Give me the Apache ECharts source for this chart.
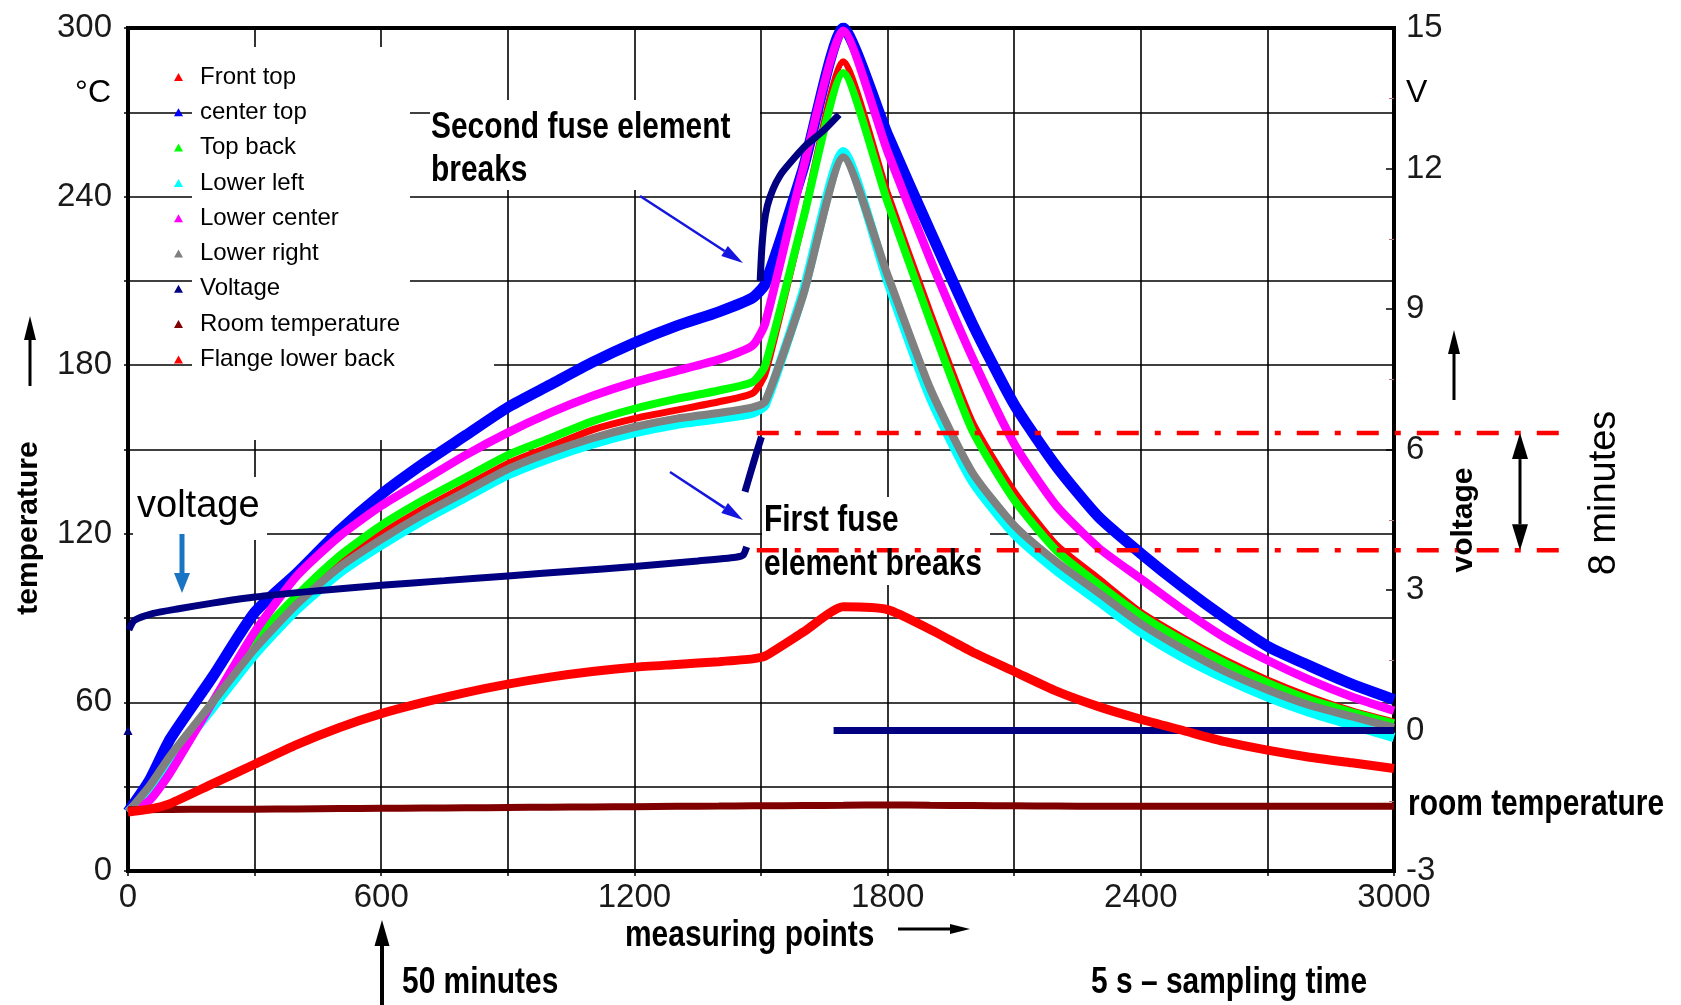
<!DOCTYPE html>
<html>
<head>
<meta charset="utf-8">
<script src="https://cdn.jsdelivr.net/npm/echarts@6.0.0/dist/echarts.min.js"></script>
<style>
  html, body { margin: 0; padding: 0; background: #fff; }
  #chart { width: 1681px; height: 1005px; }
</style>
</head>
<body>
<div id="chart"></div>
<script>
// measuring points (x positions shared by the temperature curves)
const xs = [0, 50, 100, 200, 300, 400, 500, 600, 700, 800, 900, 1000, 1100, 1200, 1300, 1400,
  1480, 1510, 1600, 1695,
  1800, 1900, 2000, 2100, 2200, 2300, 2400, 2500, 2600, 2700, 2800, 2900, 3000];

// temperatures in °C
const frontTop = [21, 27, 38, 58, 80, 96, 110, 120, 129, 137, 145, 151, 157, 161, 164, 167,
  170, 177, 232, 288,
  241, 199, 160, 135, 116, 104, 92, 83, 75, 68, 62, 57, 53];
const centerTop = [21, 32, 47, 69, 92, 106, 121, 134, 145, 155, 165, 173, 181, 188, 194, 199,
  204, 209, 250, 300,
  262, 228, 195, 166, 144, 126, 113, 101, 90, 80, 73, 66.5, 61];
const topBack = [21, 28, 40, 60, 82, 98, 112, 123, 132, 140, 148, 154, 160, 164.5, 168, 171,
  174, 180, 232, 284,
  238, 196, 157, 132, 114, 102, 91, 82, 74, 67, 61, 56.5, 52.5];
const lowerLeft = [21, 28, 39, 58, 77, 93, 106, 116, 125, 133, 141, 147, 152, 156, 159, 161,
  163, 166, 206, 256,
  210, 169, 139, 120, 107, 96, 85, 76, 68.5, 62, 56.5, 52, 47.5];
const lowerCenter = [21, 25, 35, 60, 85, 105, 119, 130, 139, 148, 156, 163, 169, 174, 178, 182,
  187, 195, 250, 299,
  256, 218, 183, 152, 130, 115, 104, 93, 83, 75, 68, 62, 57];
const lowerRight = [21, 30, 41, 60, 79, 95, 108, 118, 127, 135, 143, 149, 154, 158, 161, 163,
  165, 167, 205, 254,
  212, 172, 142, 123, 110, 99, 88, 79, 71, 64.5, 59, 55, 51];
const roomTemp = [21.8, 21.8, 21.9, 22, 22, 22.1, 22.2, 22.3, 22.4, 22.5, 22.6, 22.7, 22.8, 22.9, 23, 23.1,
  23.2, 23.2, 23.3, 23.4,
  23.5, 23.4, 23.3, 23.2, 23.1, 23, 23, 23, 23, 23, 23, 23, 23];
const flangeLowerBack = [21, 22, 24, 31, 38, 45, 51, 56, 60, 63.5, 66.5, 69, 71, 72.5, 73.5, 74.5,
  75.5, 76.5, 85, 94,
  93, 86, 78, 71, 64, 58.5, 54, 50, 46, 43, 40.5, 38.5, 36.5];

// voltage in V (null = gap where a fuse element breaks)
const voltX = [0, 1,
  2, 15, 60, 120, 200, 300, 420, 600, 750, 900, 1050, 1200, 1350, 1440, 1458, 1466, 1467,
  1462, 1475, 1490, 1501, 1502,
  1498, 1502, 1507, 1515, 1528, 1545, 1567, 1607, 1647, 1685, 1686,
  1672, 3000];
const voltV = [0, null,
  2.15, 2.35, 2.5, 2.6, 2.72, 2.85, 2.96, 3.1, 3.2, 3.3, 3.4, 3.5, 3.62, 3.7, 3.75, 3.92, null,
  5.1, 5.5, 5.95, 6.27, null,
  9.6, 10.3, 10.8, 11.2, 11.55, 11.85, 12.1, 12.5, 12.8, 13.15, null,
  0, 0];

// fuse break levels on the voltage axis
const breakLevels = [6.35, 3.85];
const breakStart = 1490;

const sans = '"Liberation Sans", Arial, sans-serif';

function pairs(arr) {
  return xs.map((x, i) => [x, arr[i]]);
}

function tempSeries(name, color, width, arr) {
  return {
    name: name,
    type: 'line',
    data: pairs(arr),
    showSymbol: false,
    smooth: 0.2,
    itemStyle: { color: color },
    lineStyle: { color: color, width: width },
    emphasis: { disabled: true }
  };
}

const voltData = voltX.map((x, i) => {
  if (i === 0) {
    return { value: [x, voltV[i]], symbol: 'triangle', symbolSize: 9 };
  }
  return [x, voltV[i] === null ? '-' : voltV[i]];
});

const chart = echarts.init(document.getElementById('chart'));

chart.setOption({
  animation: false,
  backgroundColor: '#fff',
  grid: {
    left: 128, right: 287, top: 28, bottom: 134,
    show: true, borderColor: '#000', borderWidth: 4, backgroundColor: 'transparent'
  },
  legend: {
    orient: 'vertical',
    left: 169, top: 59,
    icon: 'triangle',
    itemWidth: 9, itemHeight: 8,
    itemGap: 9.3,
    selectedMode: false,
    textStyle: { fontFamily: sans, fontSize: 24, color: '#000', lineHeight: 26, padding: [0, 0, 0, 12] },
    data: ['Front top', 'center top', 'Top back', 'Lower left', 'Lower center', 'Lower right',
      'Voltage', 'Room temperature', 'Flange lower back']
  },
  xAxis: {
    type: 'value', min: 0, max: 3000, interval: 300,
    axisLine: { lineStyle: { color: '#000', width: 4 } },
    axisTick: { show: true, length: 5, lineStyle: { color: '#000', width: 1.5 } },
    axisLabel: {
      margin: 10, fontSize: 33, fontFamily: sans, color: '#1a1a1a',
      formatter: v => (v % 600 === 0 ? String(v) : '')
    },
    splitLine: { show: true, lineStyle: { color: '#000', width: 1.6 } }
  },
  yAxis: [
    {
      type: 'value', min: 0, max: 300, interval: 30, position: 'left',
      axisLine: { show: true, lineStyle: { color: '#000', width: 4 } },
      axisTick: { show: true, length: 4, lineStyle: { color: '#000', width: 1.5 } },
      axisLabel: {
        margin: 16, fontSize: 33, fontFamily: sans, color: '#1a1a1a',
        formatter: v => (v % 60 === 0 ? String(v) : '')
      },
      splitLine: { show: true, lineStyle: { color: '#000', width: 1.6 } }
    },
    {
      type: 'value', min: -3, max: 15, interval: 3, position: 'right',
      axisLine: { show: true, lineStyle: { color: '#000', width: 4 } },
      axisTick: { show: true, inside: true, length: 8, lineStyle: { color: '#000', width: 1.5 } },
      minorTick: { show: true, splitNumber: 2, length: 5, lineStyle: { color: '#b07070', width: 1 } },
      axisLabel: { margin: 12, fontSize: 33, fontFamily: sans, color: '#1a1a1a' },
      splitLine: { show: false }
    }
  ],
  series: [
    tempSeries('Front top', '#ff0000', 7, frontTop),
    tempSeries('center top', '#0000ff', 11, centerTop),
    tempSeries('Top back', '#00ff00', 8, topBack),
    tempSeries('Lower left', '#00ffff', 9.5, lowerLeft),
    tempSeries('Lower center', '#ff00ff', 8.5, lowerCenter),
    tempSeries('Lower right', '#808080', 8, lowerRight),
    {
      name: 'Voltage',
      type: 'line',
      yAxisIndex: 1,
      data: voltData,
      showSymbol: true,
      symbol: 'none',
      smooth: 0.2,
      connectNulls: false,
      itemStyle: { color: '#000080' },
      lineStyle: { color: '#000080', width: 7 },
      emphasis: { disabled: true }
    },
    tempSeries('Room temperature', '#800000', 7, roomTemp),
    tempSeries('Flange lower back', '#ff0000', 9, flangeLowerBack)
  ]
});

// ---- annotations ----
function arrow(x1, y1, x2, y2, color, w, hl, hw) {
  const a = Math.atan2(y2 - y1, x2 - x1);
  const bx = x2 - hl * Math.cos(a), by = y2 - hl * Math.sin(a);
  const nx = -Math.sin(a) * hw / 2, ny = Math.cos(a) * hw / 2;
  return [
    { type: 'line', z: 50, shape: { x1: x1, y1: y1, x2: bx, y2: by }, style: { stroke: color, lineWidth: w } },
    { type: 'polygon', z: 50, shape: { points: [[x2, y2], [bx + nx, by + ny], [bx - nx, by - ny]] }, style: { fill: color } }
  ];
}

// narrow bold lettering is emulated with a horizontal squeeze
function text(str, x, y, font, opts) {
  opts = opts || {};
  return {
    type: 'text', z: 60, x: x, y: y,
    rotation: opts.rotation || 0,
    scaleX: font.squeeze || 1,
    style: {
      text: str, fill: '#000',
      fontFamily: sans, fontSize: font.size, fontWeight: font.weight || 'normal',
      align: opts.align || 'left', verticalAlign: 'middle'
    }
  };
}

function box(x, y, w, h) {
  return { type: 'rect', z: 1, shape: { x: x, y: y, width: w, height: h }, style: { fill: '#fff' } };
}

const boldNarrow = { size: 36.5, weight: 'bold', squeeze: 0.82 };
const boldWide = { size: 30, weight: 'bold' };
const plain = { size: 38 };

const xBreak = chart.convertToPixel({ xAxisIndex: 0 }, breakStart);
const dashY = breakLevels.map(v => chart.convertToPixel({ yAxisIndex: 1 }, v));

let g = [
  box(192, 47, 218, 325),
  box(192, 360, 302, 80),
  box(430, 100, 330, 90),
  box(133, 477, 134, 63),
  box(762, 497, 228, 88),

  text('°C', 111, 93, { size: 32 }, { align: 'right' }),
  text('V', 1406, 93, { size: 32 }),

  text('temperature', 29, 528, boldWide, { align: 'center', rotation: Math.PI / 2 }),
  text('voltage', 1464, 520, boldWide, { align: 'center', rotation: Math.PI / 2 }),
  text('8 minutes', 1605, 493, plain, { align: 'center', rotation: Math.PI / 2 }),

  text('Second fuse element', 431, 128, boldNarrow),
  text('breaks', 431, 171, boldNarrow),
  text('First fuse', 764, 521, boldNarrow),
  text('element breaks', 764, 565, boldNarrow),
  text('voltage', 137, 507, plain),

  text('measuring points', 625, 936, boldNarrow),
  text('50 minutes', 402, 983, boldNarrow),
  text('5 s \u2013 sampling time', 1091, 983, boldNarrow),
  text('room temperature', 1408, 805, boldNarrow)
];

g = g.concat(
  arrow(30, 386, 30, 316, '#000', 3, 24, 12),
  arrow(1454, 400, 1454, 330, '#000', 3, 24, 12),
  arrow(898, 929, 970, 929, '#000', 3, 20, 10),
  arrow(382, 1010, 382, 920, '#000', 4, 26, 15),
  arrow(640, 196, 743, 263, '#1515e0', 2.5, 22, 12),
  arrow(670, 472, 743, 520, '#1515e0', 2.5, 22, 12),
  arrow(182, 534, 182, 593, '#1a74c4', 5, 20, 16),
  arrow(1520, 491, 1520, dashY[0], '#000', 3, 26, 16),
  arrow(1520, 491, 1520, dashY[1], '#000', 3, 26, 16)
);

dashY.forEach(y => {
  g.push({
    type: 'line', z: 40,
    shape: { x1: xBreak, y1: y, x2: 1565, y2: y },
    style: { stroke: '#ff0000', lineWidth: 4.5, lineDash: [22, 16, 6, 16] }
  });
});

chart.setOption({ graphic: g });
</script>
</body>
</html>
